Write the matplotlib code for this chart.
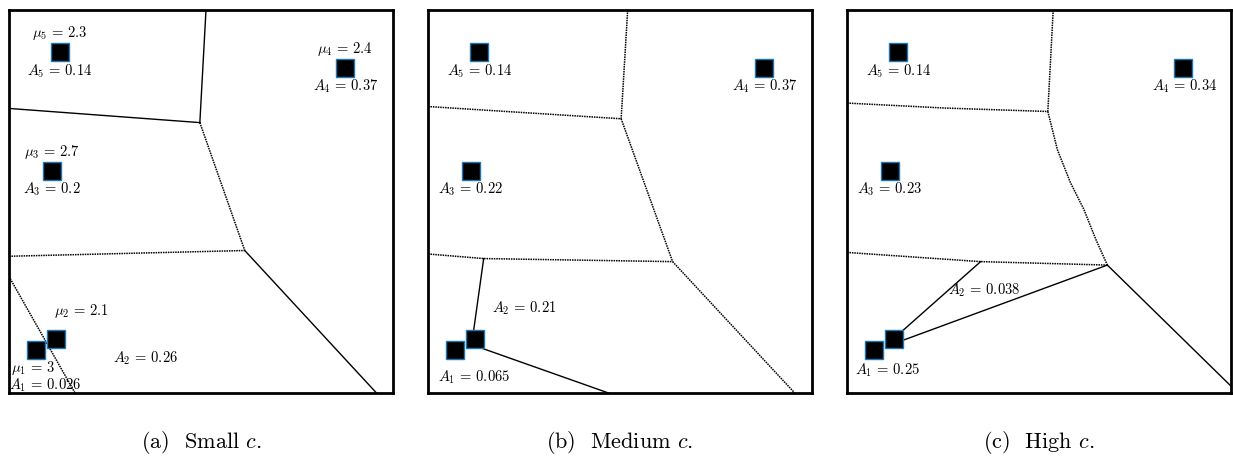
import matplotlib
matplotlib.use("Agg")
import matplotlib.pyplot as plt

plt.rcParams["font.family"] = "serif"
plt.rcParams["font.serif"] = ["cmr10"]
plt.rcParams["mathtext.fontset"] = "cm"
plt.rcParams["axes.formatter.use_mathtext"] = True

# ===== DATA =====
# site positions (same in all three panels), unit square coords
site_x = [0.070, 0.123, 0.111, 0.876, 0.133]
site_y = [0.111, 0.140, 0.580, 0.848, 0.890]

mu_vals = ["3", "2.1", "2.7", "2.4", "2.3"]

area_a = ["0.026", "0.26", "0.2", "0.37", "0.14"]
area_b = ["0.065", "0.21", "0.22", "0.37", "0.14"]
area_c = ["0.25", "0.038", "0.23", "0.34", "0.14"]

captions = ["(a)  Small $c$.", "(b)  Medium $c$.", "(c)  High $c$."]

# label anchor positions for A_i (where the text sits)
area_pos_a = [(0.094, 0.019), (0.356, 0.091), (0.111, 0.532), (0.876, 0.800), (0.133, 0.841)]
area_pos_b = [(0.119, 0.040), (0.251, 0.222), (0.111, 0.533), (0.877, 0.800), (0.134, 0.841)]
area_pos_c = [(0.106, 0.059), (0.357, 0.269), (0.111, 0.533), (0.878, 0.800), (0.134, 0.841)]

# mu label positions (panel a only)
mu_pos = [(0.064, 0.065), (0.190, 0.213), (0.111, 0.630), (0.876, 0.898), (0.133, 0.939)]

# cell boundaries: (xs, ys, dotted?)
edges_a = [
    ([0.513, 0.497], [1.0, 0.706], False),
    ([0.0, 0.497], [0.743, 0.706], False),
    ([0.497, 0.614], [0.706, 0.372], True),
    ([0.0, 0.614], [0.357, 0.372], True),
    ([0.614, 0.957], [0.372, 0.0], False),
    ([0.0, 0.172], [0.304, 0.0], True),
]
edges_b = [
    ([0.520, 0.503], [1.0, 0.716], True),
    ([0.0, 0.503], [0.748, 0.716], True),
    ([0.503, 0.637], [0.716, 0.343], True),
    ([0.0, 0.145, 0.637], [0.363, 0.351, 0.343], True),
    ([0.145, 0.117], [0.351, 0.150], False),
    ([0.123, 0.470], [0.123, 0.0], False),
    ([0.637, 0.955], [0.343, 0.0], True),
]
edges_c = [
    ([0.537, 0.523], [1.0, 0.735], True),
    ([0.0, 0.255, 0.523], [0.757, 0.744, 0.735], True),
    ([0.523, 0.548, 0.582, 0.617, 0.648, 0.678],
     [0.735, 0.635, 0.549, 0.479, 0.401, 0.334], True),
    ([0.0, 0.348, 0.678], [0.367, 0.343, 0.334], True),
    ([0.348, 0.125], [0.343, 0.145], False),
    ([0.125, 0.678], [0.130, 0.334], False),
    ([0.678, 1.0], [0.334, 0.018], False),
]

panels = [
    (edges_a, area_a, area_pos_a, True),
    (edges_b, area_b, area_pos_b, False),
    (edges_c, area_c, area_pos_c, False),
]

# ===== DRAW =====
fig = plt.figure(figsize=(12.33, 4.57), dpi=100)
lefts = [9 / 1233, 428 / 1233, 847 / 1233]
W = 1233.0
H = 457.0

for k, (edges, areas, apos, show_mu) in enumerate(panels):
    ax = fig.add_axes([lefts[k], 1 - 393 / H, 384 / W, 383 / H])
    ax.set_xlim(0, 1)
    ax.set_ylim(0, 1)
    ax.set_xticks([])
    ax.set_yticks([])
    for sp in ax.spines.values():
        sp.set_linewidth(2.0)
        sp.set_zorder(5)

    for xs, ys, dotted in edges:
        if dotted:
            ax.plot(xs, ys, color="black", lw=1.1, ls=(0, (1, 0.6)), zorder=2)
        else:
            ax.plot(xs, ys, color="black", lw=1.0, zorder=2)

    ax.plot(site_x, site_y, ls="none", marker="s", markersize=12.5,
            markerfacecolor="black", markeredgecolor="#1f77b4",
            markeredgewidth=1.0, zorder=3)

    for i in range(5):
        ax.text(apos[i][0], apos[i][1], f"$A_{i+1} \\,=\\, {areas[i]}$",
                ha="center", va="center", fontsize=10.5, zorder=4)
        if show_mu:
            ax.text(mu_pos[i][0], mu_pos[i][1], f"$\\mu_{i+1} \\,=\\, {mu_vals[i]}$",
                    ha="center", va="center", fontsize=10.5, zorder=4)

    fig.text(lefts[k] + 192 / W, 1 - 442 / H, captions[k],
             ha="center", va="center", fontsize=16)

plt.savefig("out.png", dpi=100)
